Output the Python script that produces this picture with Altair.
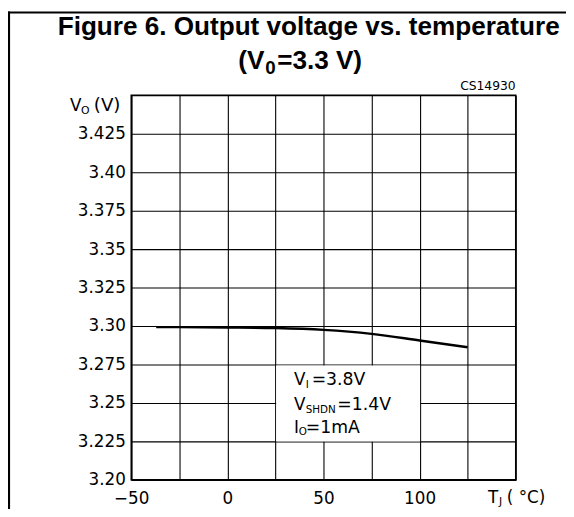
import altair as alt
import pandas as pd

# ---- data ----
temps = [-37, -25, 0, 25, 50, 75, 100, 125]
vout = [3.2993, 3.2993, 3.2991, 3.2987, 3.2975, 3.2949, 3.2906, 3.2862]

x_tick_values = [-50, -25, 0, 25, 50, 75, 100, 125, 150]
x_tick_labels = ["\u221250", "", "0", "", "50", "", "100", "", ""]
y_tick_values = [3.20, 3.225, 3.25, 3.275, 3.30, 3.325, 3.35, 3.375, 3.40, 3.425, 3.45]
y_tick_labels = ["3.20", "3.225", "3.25", "3.275", "3.30", "3.325", "3.35", "3.375", "3.40", "3.425", ""]

title_line1 = "Figure 6. Output voltage vs. temperature"
code_label = "CS14930"

W, H = 390, 390
LAB_FONT = "DejaVu Sans"
TITLE_FONT = "Liberation Sans"


def label_expr(values, labels):
    expr = "''"
    for v, lab in reversed(list(zip(values, labels))):
        expr = f"abs(datum.value - ({v})) < 1e-6 ? '{lab}' : {expr}"
    return expr


curve_df = pd.DataFrame({"T": temps, "V": vout})
one = pd.DataFrame({"a": [0]})

x_scale = alt.Scale(domain=[-50, 150], nice=False, zero=False)
y_scale = alt.Scale(domain=[3.20, 3.45], nice=False, zero=False)

x_axis = alt.Axis(
    values=x_tick_values, labelExpr=label_expr(x_tick_values, x_tick_labels),
    grid=True, gridColor="#000", gridWidth=1.1, gridOpacity=1,
    domain=True, domainColor="#000", domainWidth=1.5, ticks=False,
    labelFont=LAB_FONT, labelFontSize=17, labelColor="#000", labelPadding=24,
    labelBaseline="alphabetic",
    labelOverlap=False, labelFlush=False, title=None,
)
y_axis = alt.Axis(
    values=y_tick_values, labelExpr=label_expr(y_tick_values, y_tick_labels),
    grid=True, gridColor="#000", gridWidth=1.1, gridOpacity=1,
    domain=True, domainColor="#000", domainWidth=1.5, ticks=False,
    labelFont=LAB_FONT, labelFontSize=17, labelColor="#000", labelPadding=6,
    labelOverlap=False, labelFlush=False, labelBaseline="middle", title=None,
)

# white box behind the conditions text
box = alt.Chart(one).mark_rect(fill="white", stroke=None).encode(
    x=alt.value(147), x2=alt.value(293), y=alt.value(274), y2=alt.value(351)
)

curve = alt.Chart(curve_df).mark_line(
    color="#000", strokeWidth=2.5, interpolate="monotone"
).encode(
    x=alt.X("T:Q", scale=x_scale, axis=x_axis),
    y=alt.Y("V:Q", scale=y_scale, axis=y_axis),
)


def txt(s, x, y, size, align="left", bold=False, font=LAB_FONT):
    return alt.Chart(one).mark_text(
        text=s, align=align, baseline="alphabetic", font=font,
        fontSize=size, fontWeight="bold" if bold else "normal", color="#000",
    ).encode(x=alt.value(x), y=alt.value(y))


annotations = [
    # title
    txt(title_line1, 180, -61, 26.5, align="center", bold=True, font=TITLE_FONT),
    txt("(V", 135, -27, 26.5, align="right", bold=True, font=TITLE_FONT),
    txt("0", 136, -22, 19, bold=True, font=TITLE_FONT),
    txt("=3.3 V)", 148, -27, 26.5, bold=True, font=TITLE_FONT),
    # code
    txt(code_label, 390, -5, 12.5, align="right"),
    # y axis title
    txt("V", -62, 16, 17),
    txt("O", -51, 19, 11),
    txt("(V)", -38, 16, 18.5),
    # x axis title
    txt("T", 362, 414, 17),
    txt("J", 373, 416, 11),
    txt("( \u00b0C)", 381, 414, 17),
    # conditions
    txt("V", 165, 294, 17),
    txt("I", 177, 297, 10.5),
    txt("=3.8V", 183, 294, 17.5),
    txt("V", 165, 319, 17),
    txt("SHDN", 177, 322, 10.5),
    txt("=1.4V", 209, 319, 17.5),
    txt("I", 165, 342, 17),
    txt("O", 170, 345, 10.5),
    txt("=1mA", 177, 342, 17.5),
]

# outer frame (left and top)
frame_left = alt.Chart(one).mark_rule(color="#000", strokeWidth=2.2).encode(
    x=alt.value(-124), y=alt.value(-85), y2=alt.value(430)
)
frame_top = alt.Chart(one).mark_rule(color="#000", strokeWidth=2.2).encode(
    x=alt.value(-125), x2=alt.value(460), y=alt.value(-84)
)

chart = alt.layer(box, curve, *annotations, frame_left, frame_top).properties(
    width=W, height=H,
    autosize=alt.AutoSizeParams(type="none"),
    padding={"left": 125, "top": 85, "right": 51, "bottom": 26},
    background="white",
).configure_view(stroke="#000", strokeWidth=1.5)

chart.save("out.html", embed_options={"renderer": "svg", "actions": False})
